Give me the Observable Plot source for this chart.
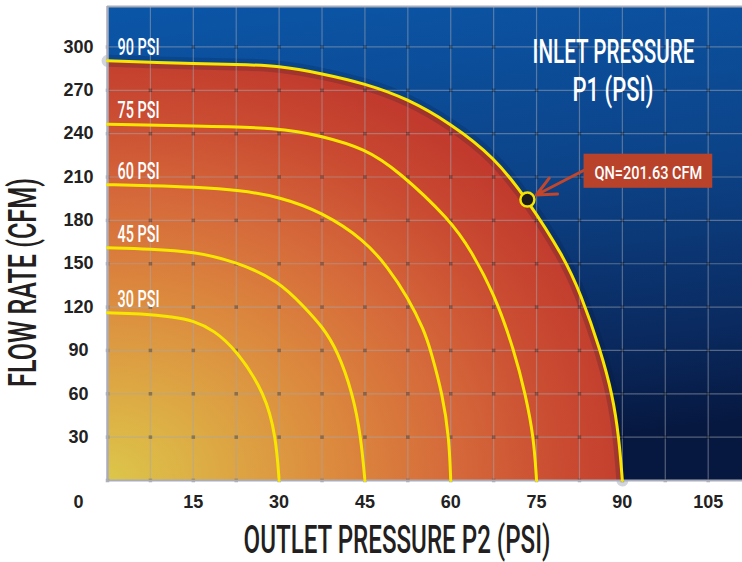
<!DOCTYPE html>
<html><head><meta charset="utf-8">
<script src="https://cdn.jsdelivr.net/npm/d3@7"></script>
<script src="https://cdn.jsdelivr.net/npm/@observablehq/plot@0.6"></script>
<style>html,body{margin:0;padding:0;background:#fff;} #chart svg{display:block}</style>
</head><body><div id="chart"></div>
<script>
// ---- data ----
const inletPressures = [30, 45, 60, 75, 90];
const curveLabels = ["30 PSI", "45 PSI", "60 PSI", "75 PSI", "90 PSI"];

const outlet30 = [0, 5.8, 11.6, 15, 18.6, 22.5, 27.6, 29.45, 30];
const flow30   = [116, 115.6, 113.2, 110.6, 104, 90.5, 60, 30, 0];
const outlet45 = [0, 7.5, 15, 22.5, 30, 34.4, 37.5, 40.2, 42.9, 44.3, 45];
const flow45   = [161, 160.2, 158.5, 151.5, 138, 120, 106.8, 90, 60, 30, 0];
const outlet60 = [0, 7.5, 15, 23.3, 30, 37.5, 45, 48.95, 52.5, 55.35, 56.5, 58.6, 59.7, 60];
const flow60   = [204.7, 204, 203.1, 200.8, 196.3, 185.8, 166.2, 147.7, 126.9, 103.9, 90, 58.9, 30, 0];
const outlet75 = [0, 15, 30, 37.5, 45, 50.7, 60, 63.5, 67.6, 71.1, 73.1, 74.5, 75];
const flow75   = [246.5, 245.4, 244.2, 238.4, 229.7, 214.7, 180, 159.3, 129.3, 90, 58.9, 30, 0];
const outlet90 = [0, 7.5, 15, 22.5, 30, 37.5, 45, 52.4, 60, 67.6, 73.4, 79.8, 82.7, 86.2, 88.3, 89.4, 90];
const flow90   = [290.4, 289.5, 288.5, 288, 287, 281.6, 274.7, 264.3, 247, 223.9, 194.4, 154.6, 129.3, 90, 58.9, 30, 0];

const xTicks = [15, 30, 45, 60, 75, 90, 105];
const yTicks = [30, 60, 90, 120, 150, 180, 210, 240, 270, 300];
const xGrid = [7.5, 15, 22.5, 30, 37.5, 45, 52.5, 60, 67.5, 75, 82.5, 90, 97.5, 105];
const yGrid = [30, 60, 90, 120, 150, 180, 210, 240, 270, 300];

const operatingPoint = [{p2: 73.4, flow: 194.4}];
const calloutBox = [{x1: 83.3, x2: 105.8, y1: 202.2, y2: 225.8, label: "QN=201.63 CFM"}];
const calloutArrow = [{x1: 83.3, y1: 214.7, x2: 73.4, y2: 194.4}];

// ---- build tables ----
const seriesX = [outlet30, outlet45, outlet60, outlet75, outlet90];
const seriesY = [flow30, flow45, flow60, flow75, flow90];
const rows = inletPressures.flatMap((p, i) => seriesX[i].map((x, j) => ({p1: p, p2: x, flow: seriesY[i][j]})));
const rows90 = rows.filter(d => d.p1 === 90);
const labelRows = inletPressures.map((p, i) => ({p1: p, p2: seriesX[i][0], flow: seriesY[i][0], label: curveLabels[i]}));
const gridPoints = [0, ...xGrid].flatMap(x => [0, ...yGrid].map(y => ({x, y})));

const defs = () => {
  const d = d3.create("svg:defs");
  const bg = d.append("linearGradient").attr("id", "bgBlue")
    .attr("x1", 0).attr("y1", 0).attr("x2", 0.15).attr("y2", 1);
  [[0, "#0b56a8"], [0.45, "#0c4388"], [0.8, "#0a2a60"], [1, "#061840"]]
    .forEach(([o, c]) => bg.append("stop").attr("offset", o).attr("stop-color", c));
  const w = d.append("radialGradient").attr("id", "warm")
    .attr("cx", 0).attr("cy", 1).attr("r", 1.05).attr("fx", 0).attr("fy", 1);
  [[0, "#dcc64a"], [0.2, "#ddaa44"], [0.42, "#dc8a3e"], [0.65, "#d5683a"], [0.85, "#c94a31"], [1, "#c13a2d"]]
    .forEach(([o, c]) => w.append("stop").attr("offset", o).attr("stop-color", c));
  return d.node();
};

const condensed = "Roboto, 'Open Sans', sans-serif";
const smooth = "basis";

const chart = Plot.plot({
  width: 742, height: 562,
  marginLeft: 107, marginRight: 0, marginTop: 6, marginBottom: 82,
  x: {domain: [0, 111]},
  y: {domain: [0, 328]},
  style: {fontFamily: "'Liberation Sans', Arial, sans-serif", background: "#fff", overflow: "visible"},
  marks: [
    defs,
    Plot.frame({fill: "url(#bgBlue)"}),
    Plot.areaY(rows90, {x: "p2", y: "flow", curve: smooth, fill: "url(#warm)"}),
    Plot.lineY(rows90, {x: "p2", y: "flow", curve: smooth, stroke: "#04163a", strokeWidth: 12, strokeOpacity: 0.18}),
    Plot.ruleX(xGrid, {stroke: "#a3a8b2", strokeOpacity: 0.5, strokeWidth: 1.2}),
    Plot.ruleY(yGrid, {stroke: "#a3a8b2", strokeOpacity: 0.5, strokeWidth: 1.2}),
    Plot.dot(gridPoints, {x: "x", y: "y", symbol: "square", r: 2, fill: "#000", fillOpacity: 0.3}),
    Plot.ruleX([0], {stroke: "#a9adba", strokeWidth: 2.5}),
    Plot.ruleY([0, 328], {stroke: "#a9adba", strokeWidth: 2}),
    Plot.line(rows, {x: "p2", y: "flow", z: "p1", curve: smooth, stroke: "#f7e600", strokeWidth: 3}),
    Plot.text(labelRows, {x: "p2", y: "flow", text: "label", textAnchor: "start", lineAnchor: "bottom",
      dx: 10, dy: -6, fill: "#fff", fontSize: 24, fontWeight: 500, fontFamily: condensed}),
    Plot.arrow(calloutArrow, {x1: "x1", y1: "y1", x2: "x2", y2: "y2", stroke: "#c2462b", strokeWidth: 3,
      headLength: 13, headAngle: 50, insetEnd: 10}),
    Plot.dot(operatingPoint, {x: "p2", y: "flow", r: 7, fill: "#1c1c1c", stroke: "#f5e400", strokeWidth: 2.5}),
    Plot.rect(calloutBox, {x1: "x1", x2: "x2", y1: "y1", y2: "y2", fill: "#b8432a"}),
    Plot.text(calloutBox, {x: d => (d.x1 + d.x2) / 2, y: d => (d.y1 + d.y2) / 2, text: "label", dy: 2,
      fill: "#fff", fontSize: 18.5, fontWeight: 500, fontFamily: condensed}),
    Plot.text(["INLET PRESSURE"], {frameAnchor: "top-right", textAnchor: "middle", dx: -129, dy: 56, lineAnchor: "bottom",
      fill: "#fff", fontSize: 34, fontWeight: 500, fontFamily: condensed}),
    Plot.text(["P1 (PSI)"], {frameAnchor: "top-right", textAnchor: "middle", dx: -129.5, dy: 94, lineAnchor: "bottom",
      fill: "#fff", fontSize: 34, fontWeight: 500, fontFamily: condensed}),
    Plot.axisX(xTicks, {tickSize: 0, tickPadding: 15, fontSize: 18, fontWeight: "bold", color: "#222", label: null}),
    Plot.axisY(yTicks, {tickSize: 0, tickPadding: 29, textAnchor: "middle", fontSize: 18, fontWeight: "bold", color: "#222", label: null}),
    Plot.text([0], {x: d => d, y: d => d, text: d => String(d), dx: -29, dy: 15, lineAnchor: "top",
      fontSize: 18, fontWeight: "bold", fill: "#222"}),
    Plot.text(["OUTLET PRESSURE P2 (PSI)"], {frameAnchor: "bottom", textAnchor: "middle", dx: -28, dy: 72, lineAnchor: "bottom",
      fill: "#231f20", fontSize: 38, fontWeight: 500, fontFamily: condensed}),
    Plot.text(["FLOW RATE (CFM)"], {frameAnchor: "left", textAnchor: "middle", dx: -72, dy: 39, rotate: -90, lineAnchor: "bottom",
      fill: "#231f20", fontSize: 38, fontWeight: 500, fontFamily: condensed})
  ]
});

document.getElementById("chart").appendChild(chart);
// condensed look: scale specific texts horizontally to the widths measured on the reference
const widths = new Map([
  ["30 PSI", 42], ["45 PSI", 42], ["60 PSI", 42], ["75 PSI", 42], ["90 PSI", 42],
  ["QN=201.63 CFM", 108], ["INLET PRESSURE", 162], ["P1 (PSI)", 81],
  ["OUTLET PRESSURE P2 (PSI)", 307], ["FLOW RATE (CFM)", 209]
]);
d3.select(chart).selectAll("text").each(function () {
  const w = widths.get(this.textContent);
  if (!w) return;
  const t = this.getAttribute("transform");
  const L = this.getComputedTextLength();
  if (t && L > 0) {
    this.setAttribute("transform", `${t} scale(${w / L},1)`);
  } else {
    this.setAttribute("textLength", w);
    this.setAttribute("lengthAdjust", "spacingAndGlyphs");
  }
});
</script>
</body></html>
